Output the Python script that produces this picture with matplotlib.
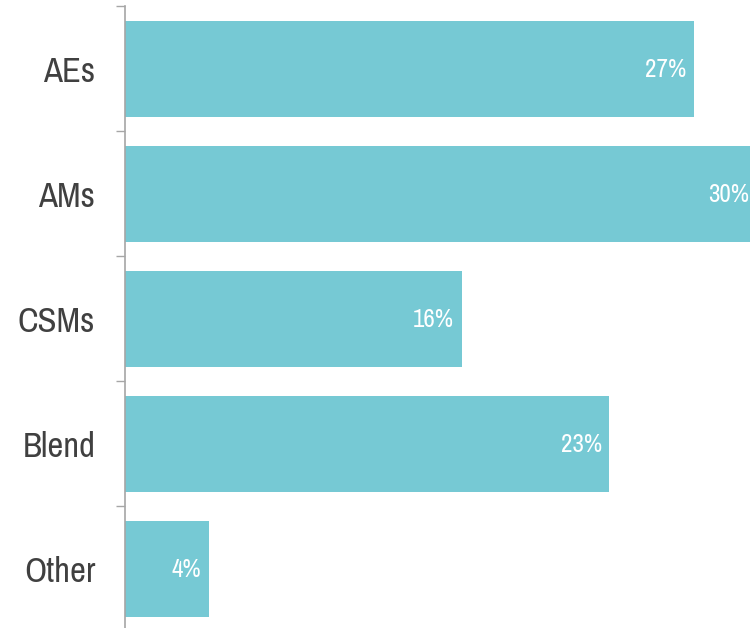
import numpy as np
import matplotlib
matplotlib.use("Agg")
import matplotlib.pyplot as plt

# Share of respondents by role
roles = ["AEs", "AMs", "CSMs", "Blend", "Other"]
shares = [27, 30, 16, 23, 4]
share_labels = ["27%", "30%", "16%", "23%", "4%"]

bar_color = "#76C9D4"
text_color = "#404040"
axis_color = "#A6A6A6"

plt.rcParams["font.family"] = ["Liberation Sans Narrow", "Archivo Narrow", "Liberation Sans", "DejaVu Sans"]

fig = plt.figure(figsize=(7.5, 6.28), dpi=100)
ax = fig.add_axes([0.166, -0.0048, 0.834, 0.9952])

y = np.arange(len(roles))
ax.barh(y, shares, height=0.768, color=bar_color)

for yi, val, lab in zip(y, shares, share_labels):
    ax.annotate(lab, xy=(val, yi), xytext=(-5.5, -1), textcoords="offset points",
                ha="right", va="center", color="white", fontsize=18,
                annotation_clip=False)

ax.set_xlim(0, 29.67)
ax.set_ylim(len(roles) - 0.5, -0.5)

ax.set_yticks(y)
ax.set_yticklabels(roles, fontsize=25, color=text_color)
ax.tick_params(axis="y", which="major", length=0, pad=21)
ax.set_yticks(np.arange(-0.5, len(roles)), minor=True)
ax.tick_params(axis="y", which="minor", length=6.5, width=1, color=axis_color)
ax.set_xticks([])

for side in ["top", "right", "bottom"]:
    ax.spines[side].set_visible(False)
ax.spines["left"].set_color(axis_color)
ax.spines["left"].set_linewidth(1.2)

fig.savefig("out.png", dpi=100)
